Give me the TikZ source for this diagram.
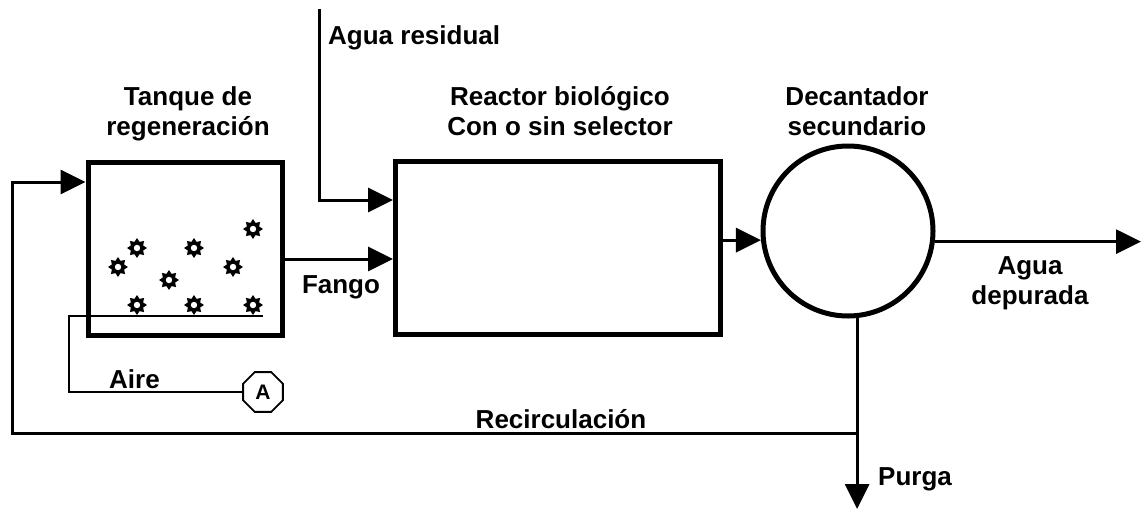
\documentclass[tikz,border=0pt]{standalone}
\usepackage{fontspec}
\setmainfont{Liberation Sans}
\usetikzlibrary{arrows.meta,shapes.geometric}
\begin{document}
\begin{tikzpicture}[x=1pt, y=-1pt, font=\fontsize{26}{30}\selectfont\bfseries,
	line join=miter, >={Triangle[length=25pt,width=24pt]},
	every node/.style={inner sep=0pt},
	unidad/.style={draw, line width=5pt},
	flujo/.style={line width=3pt, ->},
	linea/.style={line width=1.8pt},
	titulo/.style={anchor=north, align=center},
	burbuja/.pic={
		\fill (0:10) \foreach \a in {1,...,15}{--({\a*22.5}:{mod(\a,2)==0?10:6.6})} -- cycle;
		\fill[white] (0,0) circle (3.2);
	}]
	\useasboundingbox (0,0) rectangle (1141,509);
	% unidades
	\node[unidad, minimum width=194pt, minimum height=173pt] (tanque) at (185,248.5) {};
	\node[unidad, minimum width=325pt, minimum height=173pt] (reactor) at (558,248) {};
	\node[unidad, circle, minimum size=170pt] (decantador) at (848,231) {};
	\node[draw, line width=1.8pt, regular polygon, regular polygon sides=8, minimum size=43pt, font=\fontsize{21}{21}\selectfont\bfseries] (soplante) at (263,392) {A};
	% burbujas
	\foreach \p in {(137,248),(194,248),(253,229),(118,267),(169,280),(233,267),(137,305),(194,305),(253,305)}
		\pic at \p {burbuja};
	% titulos
	\node[titulo] (t-tanque) at (188,86) {Tanque de\\regeneración};
	\node[titulo] (t-reactor) at (560,86) {Reactor biológico\\Con o sin selector};
	\node[titulo] (t-decantador) at (857,86) {Decantador\\secundario};
	% etiquetas
	\node[anchor=base west] (l-residual) at (328,44) {Agua residual};
	\node[anchor=base] (l-fango) at (341,293) {Fango};
	\node[titulo] (l-depurada) at (1030,256) {Agua\\depurada};
	\node[anchor=base west] (l-purga) at (878,485) {Purga};
	\node[anchor=base west] (l-aire) at (109,388) {Aire};
	\node[anchor=base] (l-recirc) at (561,428) {Recirculación};
	% puntos
	\coordinate (entrada) at (319,9);
	\coordinate (retorno) at (12,182);
	\coordinate (union) at (857,433);
	\coordinate (purga) at (857,509);
	\coordinate (salida) at (1141,242);
	\coordinate (difusor) at (263,316);
	\coordinate (codo) at (69,316);
	\coordinate (fango) at ([yshift=-11pt]reactor.west);
	% conexiones
	\draw[flujo] (entrada) |- ([yshift=48pt]reactor.west);
	\draw[flujo] (fango -| tanque.east) -- (fango);
	\draw[flujo] (reactor.east |- decantador.186) -- (decantador.186);
	\draw[flujo] (decantador.353) -- (decantador.353 -| salida);
	\draw[flujo] (decantador.-84) -- (decantador.-84 |- purga);
	\draw[flujo] (decantador.-84 |- union) -| (retorno) -- (retorno -| tanque.west);
	\draw[linea] (difusor) -- (codo) |- (soplante.west);
\end{tikzpicture}
\end{document}
